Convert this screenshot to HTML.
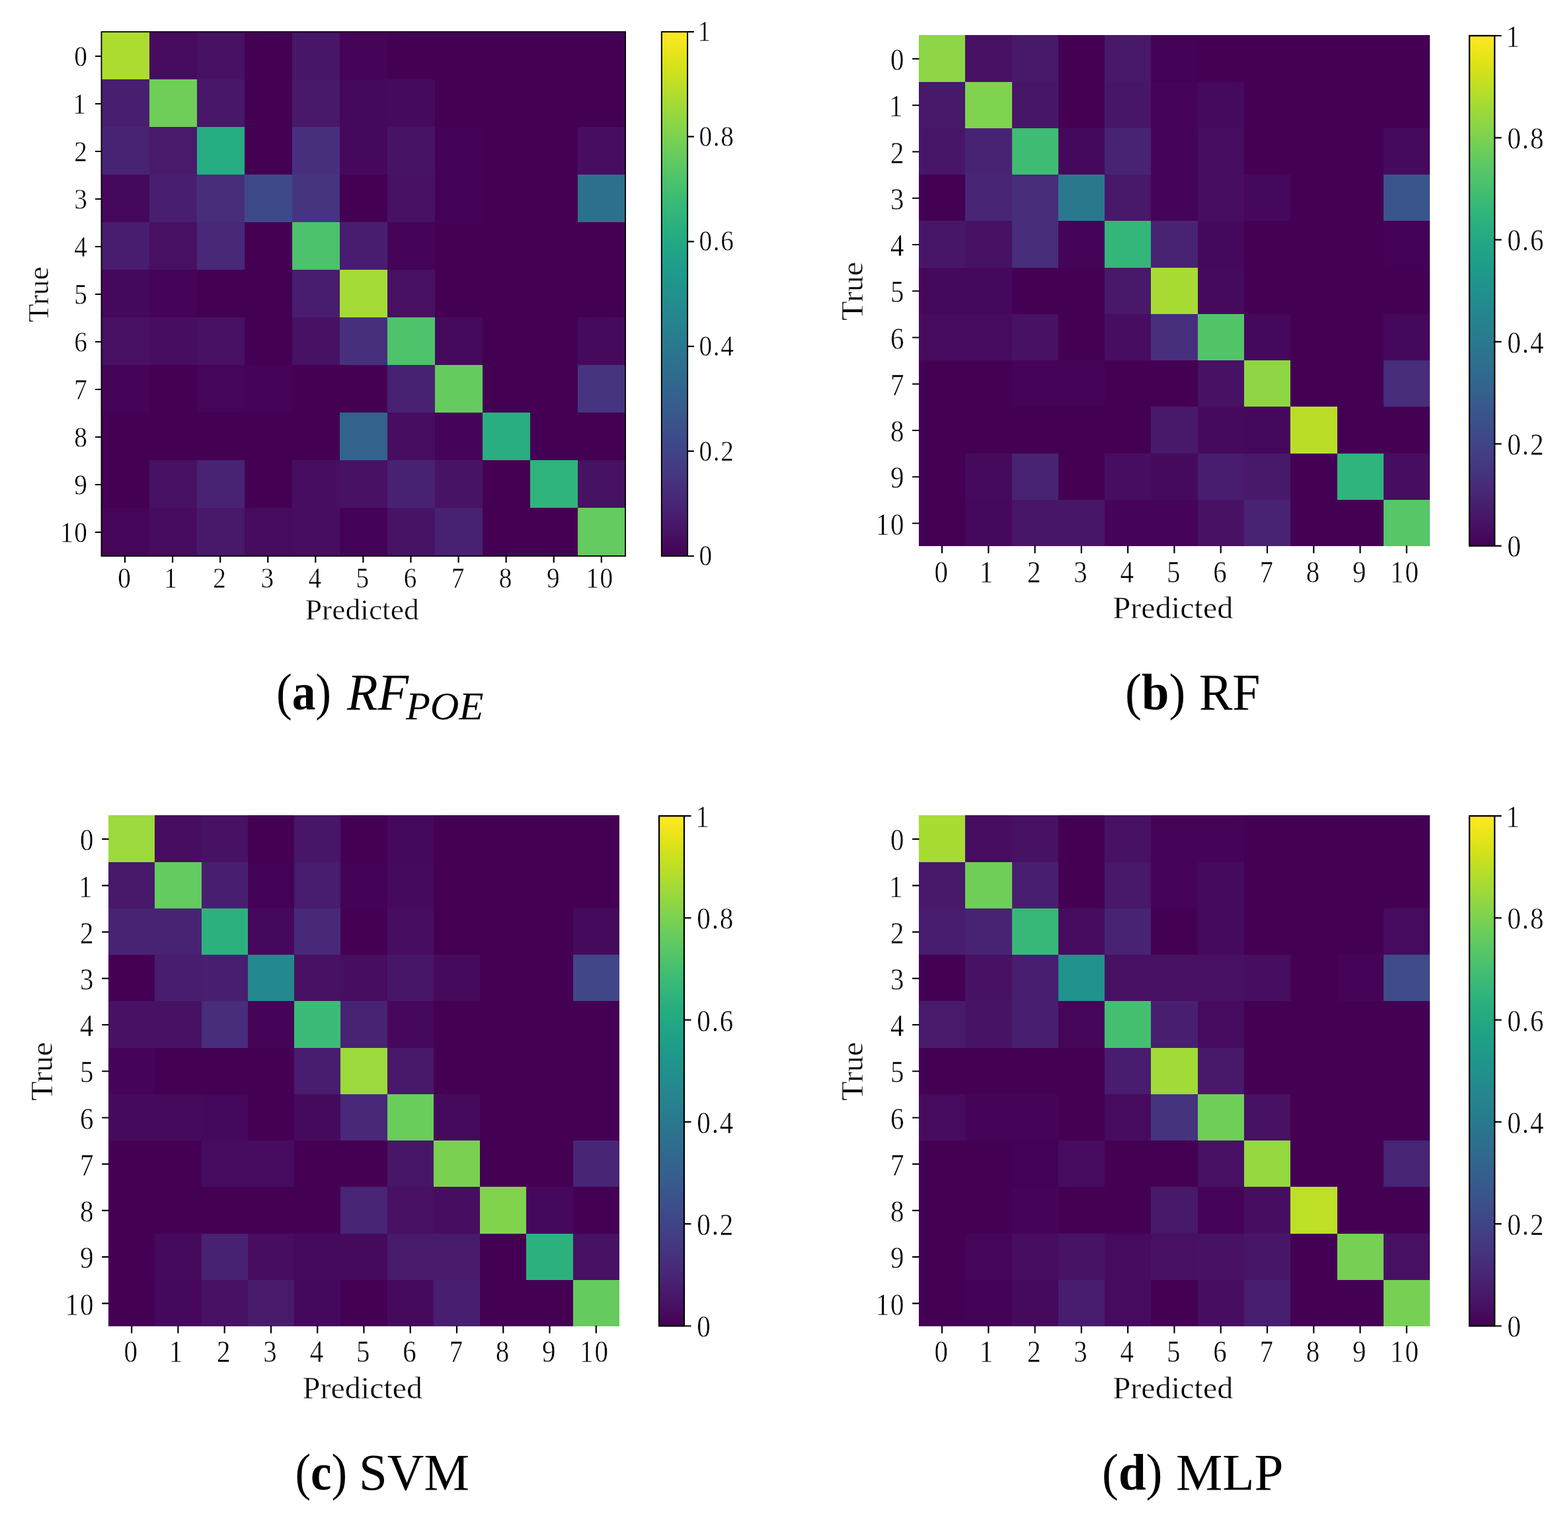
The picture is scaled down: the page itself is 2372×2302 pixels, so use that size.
<!DOCTYPE html>
<html lang="en"><head><meta charset="utf-8"><title>Confusion matrices</title>
<style>
html,body{margin:0;padding:0;background:#fff;}
body{width:2372px;height:2302px;overflow:hidden;}
svg{display:block;}
text{font-family:"Liberation Serif", "DejaVu Serif", serif;fill:#000;}
.t{stroke:#fff;stroke-width:0.5px;stroke-linejoin:round;}
.cap{font-family:"Liberation Serif", "DejaVu Serif", serif;}
</style></head><body>
<svg width="2372" height="2302" viewBox="0 0 2372 2302">
<defs><linearGradient id="vir" x1="0" y1="1" x2="0" y2="0">
<stop offset="0.0000" stop-color="#440154"/>
<stop offset="0.0156" stop-color="#46075a"/>
<stop offset="0.0312" stop-color="#470d60"/>
<stop offset="0.0469" stop-color="#471365"/>
<stop offset="0.0625" stop-color="#48186a"/>
<stop offset="0.0781" stop-color="#481d6f"/>
<stop offset="0.0938" stop-color="#482374"/>
<stop offset="0.1094" stop-color="#482878"/>
<stop offset="0.1250" stop-color="#472d7b"/>
<stop offset="0.1406" stop-color="#46327e"/>
<stop offset="0.1562" stop-color="#453781"/>
<stop offset="0.1719" stop-color="#443b84"/>
<stop offset="0.1875" stop-color="#424086"/>
<stop offset="0.2031" stop-color="#404588"/>
<stop offset="0.2188" stop-color="#3e4989"/>
<stop offset="0.2344" stop-color="#3d4e8a"/>
<stop offset="0.2500" stop-color="#3b528b"/>
<stop offset="0.2656" stop-color="#39568c"/>
<stop offset="0.2812" stop-color="#375b8d"/>
<stop offset="0.2969" stop-color="#355f8d"/>
<stop offset="0.3125" stop-color="#33638d"/>
<stop offset="0.3281" stop-color="#31678e"/>
<stop offset="0.3438" stop-color="#2f6b8e"/>
<stop offset="0.3594" stop-color="#2e6f8e"/>
<stop offset="0.3750" stop-color="#2c728e"/>
<stop offset="0.3906" stop-color="#2a768e"/>
<stop offset="0.4062" stop-color="#297a8e"/>
<stop offset="0.4219" stop-color="#277e8e"/>
<stop offset="0.4375" stop-color="#26828e"/>
<stop offset="0.4531" stop-color="#25858e"/>
<stop offset="0.4688" stop-color="#23898e"/>
<stop offset="0.4844" stop-color="#228d8d"/>
<stop offset="0.5000" stop-color="#21918c"/>
<stop offset="0.5156" stop-color="#1f948c"/>
<stop offset="0.5312" stop-color="#1f988b"/>
<stop offset="0.5469" stop-color="#1e9c89"/>
<stop offset="0.5625" stop-color="#1fa088"/>
<stop offset="0.5781" stop-color="#20a386"/>
<stop offset="0.5938" stop-color="#22a785"/>
<stop offset="0.6094" stop-color="#25ab82"/>
<stop offset="0.6250" stop-color="#28ae80"/>
<stop offset="0.6406" stop-color="#2db27d"/>
<stop offset="0.6562" stop-color="#32b67a"/>
<stop offset="0.6719" stop-color="#38b977"/>
<stop offset="0.6875" stop-color="#3fbc73"/>
<stop offset="0.7031" stop-color="#46c06f"/>
<stop offset="0.7188" stop-color="#4ec36b"/>
<stop offset="0.7344" stop-color="#56c667"/>
<stop offset="0.7500" stop-color="#5ec962"/>
<stop offset="0.7656" stop-color="#67cc5c"/>
<stop offset="0.7812" stop-color="#70cf57"/>
<stop offset="0.7969" stop-color="#7ad151"/>
<stop offset="0.8125" stop-color="#84d44b"/>
<stop offset="0.8281" stop-color="#8ed645"/>
<stop offset="0.8438" stop-color="#98d83e"/>
<stop offset="0.8594" stop-color="#a2da37"/>
<stop offset="0.8750" stop-color="#addc30"/>
<stop offset="0.8906" stop-color="#b8de29"/>
<stop offset="0.9062" stop-color="#c2df23"/>
<stop offset="0.9219" stop-color="#cde11d"/>
<stop offset="0.9375" stop-color="#d8e219"/>
<stop offset="0.9531" stop-color="#e2e418"/>
<stop offset="0.9688" stop-color="#ece51b"/>
<stop offset="0.9844" stop-color="#f6e620"/>
<stop offset="1.0000" stop-color="#fde725"/>
</linearGradient></defs>
<rect x="0" y="0" width="2372" height="2302" fill="#ffffff"/>
<g id="panel-a">
<g shape-rendering="crispEdges">
<rect x="153.45" y="48.15" width="792.6" height="792.85" fill="#440154"/>
<rect x="153.45" y="48.15" width="72.55" height="71.85" fill="#addc30"/>
<rect x="226" y="48.15" width="72" height="71.85" fill="#460b5e"/>
<rect x="298" y="48.15" width="72" height="71.85" fill="#471164"/>
<rect x="442" y="48.15" width="72" height="71.85" fill="#481668"/>
<rect x="514" y="48.15" width="72" height="71.85" fill="#450457"/>
<rect x="153.45" y="120" width="72.55" height="72" fill="#481f70"/>
<rect x="226" y="120" width="72" height="72" fill="#6ece58"/>
<rect x="298" y="120" width="72" height="72" fill="#481769"/>
<rect x="442" y="120" width="72" height="72" fill="#48186a"/>
<rect x="514" y="120" width="72" height="72" fill="#46085c"/>
<rect x="586" y="120" width="72" height="72" fill="#460a5d"/>
<rect x="153.45" y="192" width="72.55" height="72" fill="#482374"/>
<rect x="226" y="192" width="72" height="72" fill="#481a6c"/>
<rect x="298" y="192" width="72" height="72" fill="#26ad81"/>
<rect x="442" y="192" width="72" height="72" fill="#46307e"/>
<rect x="514" y="192" width="72" height="72" fill="#46085c"/>
<rect x="586" y="192" width="72" height="72" fill="#471365"/>
<rect x="658" y="192" width="72" height="72" fill="#440256"/>
<rect x="874" y="192" width="72.05" height="72" fill="#470d60"/>
<rect x="153.45" y="264" width="72.55" height="72" fill="#46085c"/>
<rect x="226" y="264" width="72" height="72" fill="#481f70"/>
<rect x="298" y="264" width="72" height="72" fill="#472d7b"/>
<rect x="370" y="264" width="72" height="72" fill="#3e4989"/>
<rect x="442" y="264" width="72" height="72" fill="#463480"/>
<rect x="586" y="264" width="72" height="72" fill="#471164"/>
<rect x="658" y="264" width="72" height="72" fill="#440256"/>
<rect x="874" y="264" width="72.05" height="72" fill="#2d708e"/>
<rect x="153.45" y="336" width="72.55" height="72" fill="#481c6e"/>
<rect x="226" y="336" width="72" height="72" fill="#471063"/>
<rect x="298" y="336" width="72" height="72" fill="#482878"/>
<rect x="442" y="336" width="72" height="72" fill="#4cc26c"/>
<rect x="514" y="336" width="72" height="72" fill="#481d6f"/>
<rect x="586" y="336" width="72" height="72" fill="#450457"/>
<rect x="153.45" y="408" width="72.55" height="72" fill="#46085c"/>
<rect x="226" y="408" width="72" height="72" fill="#450457"/>
<rect x="442" y="408" width="72" height="72" fill="#481d6f"/>
<rect x="514" y="408" width="72" height="72" fill="#a5db36"/>
<rect x="586" y="408" width="72" height="72" fill="#471063"/>
<rect x="153.45" y="480" width="72.55" height="72" fill="#471063"/>
<rect x="226" y="480" width="72" height="72" fill="#470d60"/>
<rect x="298" y="480" width="72" height="72" fill="#471063"/>
<rect x="442" y="480" width="72" height="72" fill="#471164"/>
<rect x="514" y="480" width="72" height="72" fill="#46307e"/>
<rect x="586" y="480" width="72" height="72" fill="#4ec36b"/>
<rect x="658" y="480" width="72" height="72" fill="#460a5d"/>
<rect x="874" y="480" width="72.05" height="72" fill="#460a5d"/>
<rect x="153.45" y="552" width="72.55" height="72" fill="#450457"/>
<rect x="298" y="552" width="72" height="72" fill="#450559"/>
<rect x="370" y="552" width="72" height="72" fill="#450457"/>
<rect x="586" y="552" width="72" height="72" fill="#482173"/>
<rect x="658" y="552" width="72" height="72" fill="#65cb5e"/>
<rect x="874" y="552" width="72.05" height="72" fill="#463480"/>
<rect x="514" y="624" width="72" height="72" fill="#33638d"/>
<rect x="586" y="624" width="72" height="72" fill="#470d60"/>
<rect x="658" y="624" width="72" height="72" fill="#450457"/>
<rect x="730" y="624" width="72" height="72" fill="#28ae80"/>
<rect x="226" y="696" width="72" height="72" fill="#471164"/>
<rect x="298" y="696" width="72" height="72" fill="#482374"/>
<rect x="442" y="696" width="72" height="72" fill="#470d60"/>
<rect x="514" y="696" width="72" height="72" fill="#471164"/>
<rect x="586" y="696" width="72" height="72" fill="#482173"/>
<rect x="658" y="696" width="72" height="72" fill="#471365"/>
<rect x="802" y="696" width="72" height="72" fill="#2fb47c"/>
<rect x="874" y="696" width="72.05" height="72" fill="#471164"/>
<rect x="153.45" y="768" width="72.55" height="73" fill="#450559"/>
<rect x="226" y="768" width="72" height="73" fill="#460b5e"/>
<rect x="298" y="768" width="72" height="73" fill="#48186a"/>
<rect x="370" y="768" width="72" height="73" fill="#460b5e"/>
<rect x="442" y="768" width="72" height="73" fill="#470d60"/>
<rect x="514" y="768" width="72" height="73" fill="#440256"/>
<rect x="586" y="768" width="72" height="73" fill="#471365"/>
<rect x="658" y="768" width="72" height="73" fill="#482173"/>
<rect x="874" y="768" width="72.05" height="73" fill="#63cb5f"/>
</g>
<path d="M144.05 85H153.45M189 841V850.9M144.05 157H153.45M261.08 841V850.9M144.05 229H153.45M333.16 841V850.9M144.05 301H153.45M405.24 841V850.9M144.05 373H153.45M477.32 841V850.9M144.05 445H153.45M549.4 841V850.9M144.05 517H153.45M621.48 841V850.9M144.05 589H153.45M693.56 841V850.9M144.05 661H153.45M765.64 841V850.9M144.05 733H153.45M837.72 841V850.9M144.05 805H153.45M909.8 841V850.9" stroke="#000" stroke-width="2.2" fill="none"/>
<rect x="153.45" y="48.15" width="792.6" height="792.85" fill="none" stroke="#000" stroke-width="1.8"/>
<text class="t" transform="translate(131.95 100.1) scale(0.880 1)" font-size="44.6" text-anchor="end">0</text>
<text class="t" transform="translate(129.95 172.1) scale(0.880 1)" font-size="44.6" text-anchor="end">1</text>
<text class="t" transform="translate(131.95 244.1) scale(0.880 1)" font-size="44.6" text-anchor="end">2</text>
<text class="t" transform="translate(131.95 316.1) scale(0.880 1)" font-size="44.6" text-anchor="end">3</text>
<text class="t" transform="translate(131.95 388.1) scale(0.880 1)" font-size="44.6" text-anchor="end">4</text>
<text class="t" transform="translate(131.95 460.1) scale(0.880 1)" font-size="44.6" text-anchor="end">5</text>
<text class="t" transform="translate(131.95 532.1) scale(0.880 1)" font-size="44.6" text-anchor="end">6</text>
<text class="t" transform="translate(131.95 604.1) scale(0.880 1)" font-size="44.6" text-anchor="end">7</text>
<text class="t" transform="translate(131.95 676.1) scale(0.880 1)" font-size="44.6" text-anchor="end">8</text>
<text class="t" transform="translate(131.95 748.1) scale(0.880 1)" font-size="44.6" text-anchor="end">9</text>
<text class="t" transform="translate(133.6 820.1) scale(0.880 1)" font-size="44.6" text-anchor="end" style="letter-spacing:1.88px">10</text>
<text class="t" transform="translate(188 889) scale(0.880 1)" font-size="44.6" text-anchor="middle">0</text>
<text class="t" transform="translate(258.08 889) scale(0.880 1)" font-size="44.6" text-anchor="middle">1</text>
<text class="t" transform="translate(332.16 889) scale(0.880 1)" font-size="44.6" text-anchor="middle">2</text>
<text class="t" transform="translate(404.24 889) scale(0.880 1)" font-size="44.6" text-anchor="middle">3</text>
<text class="t" transform="translate(476.32 889) scale(0.880 1)" font-size="44.6" text-anchor="middle">4</text>
<text class="t" transform="translate(548.4 889) scale(0.880 1)" font-size="44.6" text-anchor="middle">5</text>
<text class="t" transform="translate(620.48 889) scale(0.880 1)" font-size="44.6" text-anchor="middle">6</text>
<text class="t" transform="translate(692.56 889) scale(0.880 1)" font-size="44.6" text-anchor="middle">7</text>
<text class="t" transform="translate(764.64 889) scale(0.880 1)" font-size="44.6" text-anchor="middle">8</text>
<text class="t" transform="translate(836.72 889) scale(0.880 1)" font-size="44.6" text-anchor="middle">9</text>
<text class="t" transform="translate(907.62 889) scale(0.880 1)" font-size="44.6" text-anchor="middle" style="letter-spacing:1.88px">10</text>
<text class="t" x="547.75" y="937" font-size="44.6" text-anchor="middle" textLength="172.1" lengthAdjust="spacingAndGlyphs">Predicted</text>
<text class="t" transform="translate(73.2 445.38) rotate(-90)" font-size="44.6" text-anchor="middle" textLength="84.4" lengthAdjust="spacingAndGlyphs">True</text>
<rect x="1000.85" y="48.15" width="39.2" height="792.85" fill="url(#vir)" stroke="#000" stroke-width="2"/>
<path d="M1040.05 841H1049.85M1040.05 682.43H1049.85M1040.05 523.86H1049.85M1040.05 365.29H1049.85M1040.05 206.72H1049.85M1040.05 48.15H1049.85" stroke="#000" stroke-width="2.2" fill="none"/>
<text class="t" transform="translate(1057.5 855.2) scale(0.880 1)" font-size="44.6" text-anchor="start">0</text>
<text class="t" transform="translate(1057.5 696.63) scale(0.880 1)" font-size="44.6" text-anchor="start" style="letter-spacing:1.88px">0.2</text>
<text class="t" transform="translate(1057.5 538.06) scale(0.880 1)" font-size="44.6" text-anchor="start" style="letter-spacing:1.88px">0.4</text>
<text class="t" transform="translate(1057.5 379.49) scale(0.880 1)" font-size="44.6" text-anchor="start" style="letter-spacing:1.88px">0.6</text>
<text class="t" transform="translate(1057.5 220.92) scale(0.880 1)" font-size="44.6" text-anchor="start" style="letter-spacing:1.88px">0.8</text>
<text class="t" transform="translate(1055.5 62.35) scale(0.880 1)" font-size="44.6" text-anchor="start">1</text>
</g>
<g id="panel-b">
<g shape-rendering="crispEdges">
<rect x="1389.9" y="53" width="773.1" height="772.8" fill="#440154"/>
<rect x="1389.9" y="53" width="70.1" height="71" fill="#8ed645"/>
<rect x="1460" y="53" width="71" height="71" fill="#471164"/>
<rect x="1531" y="53" width="70" height="71" fill="#48186a"/>
<rect x="1671" y="53" width="70" height="71" fill="#48186a"/>
<rect x="1741" y="53" width="71" height="71" fill="#440256"/>
<rect x="1389.9" y="124" width="70.1" height="70" fill="#48186a"/>
<rect x="1460" y="124" width="71" height="70" fill="#7fd34e"/>
<rect x="1531" y="124" width="70" height="70" fill="#481668"/>
<rect x="1671" y="124" width="70" height="70" fill="#481668"/>
<rect x="1741" y="124" width="71" height="70" fill="#450457"/>
<rect x="1812" y="124" width="70" height="70" fill="#460a5d"/>
<rect x="1389.9" y="194" width="70.1" height="70" fill="#481668"/>
<rect x="1460" y="194" width="71" height="70" fill="#482374"/>
<rect x="1531" y="194" width="70" height="70" fill="#3fbc73"/>
<rect x="1601" y="194" width="70" height="70" fill="#46085c"/>
<rect x="1671" y="194" width="70" height="70" fill="#482374"/>
<rect x="1741" y="194" width="71" height="70" fill="#450457"/>
<rect x="1812" y="194" width="70" height="70" fill="#470d60"/>
<rect x="2093" y="194" width="70" height="70" fill="#460a5d"/>
<rect x="1460" y="264" width="71" height="70" fill="#482576"/>
<rect x="1531" y="264" width="70" height="70" fill="#472d7b"/>
<rect x="1601" y="264" width="70" height="70" fill="#2a788e"/>
<rect x="1671" y="264" width="70" height="70" fill="#48186a"/>
<rect x="1741" y="264" width="71" height="70" fill="#450457"/>
<rect x="1812" y="264" width="70" height="70" fill="#470d60"/>
<rect x="1882" y="264" width="70" height="70" fill="#46085c"/>
<rect x="2093" y="264" width="70" height="70" fill="#3a548c"/>
<rect x="1389.9" y="334" width="70.1" height="71" fill="#481668"/>
<rect x="1460" y="334" width="71" height="71" fill="#471164"/>
<rect x="1531" y="334" width="70" height="71" fill="#472d7b"/>
<rect x="1601" y="334" width="70" height="71" fill="#450457"/>
<rect x="1671" y="334" width="70" height="71" fill="#32b67a"/>
<rect x="1741" y="334" width="71" height="71" fill="#482374"/>
<rect x="1812" y="334" width="70" height="71" fill="#46085c"/>
<rect x="2093" y="334" width="70" height="71" fill="#440256"/>
<rect x="1389.9" y="405" width="70.1" height="70" fill="#46085c"/>
<rect x="1460" y="405" width="71" height="70" fill="#46085c"/>
<rect x="1671" y="405" width="70" height="70" fill="#48186a"/>
<rect x="1741" y="405" width="71" height="70" fill="#a8db34"/>
<rect x="1812" y="405" width="70" height="70" fill="#460a5d"/>
<rect x="1389.9" y="475" width="70.1" height="70" fill="#460b5e"/>
<rect x="1460" y="475" width="71" height="70" fill="#460b5e"/>
<rect x="1531" y="475" width="70" height="70" fill="#471164"/>
<rect x="1671" y="475" width="70" height="70" fill="#470d60"/>
<rect x="1741" y="475" width="71" height="70" fill="#472f7d"/>
<rect x="1812" y="475" width="70" height="70" fill="#52c569"/>
<rect x="1882" y="475" width="70" height="70" fill="#46085c"/>
<rect x="2093" y="475" width="70" height="70" fill="#46085c"/>
<rect x="1531" y="545" width="70" height="70" fill="#450457"/>
<rect x="1601" y="545" width="70" height="70" fill="#450457"/>
<rect x="1812" y="545" width="70" height="70" fill="#471164"/>
<rect x="1882" y="545" width="70" height="70" fill="#8ed645"/>
<rect x="2093" y="545" width="70" height="70" fill="#472d7b"/>
<rect x="1741" y="615" width="71" height="71" fill="#48186a"/>
<rect x="1812" y="615" width="70" height="71" fill="#460a5d"/>
<rect x="1882" y="615" width="70" height="71" fill="#46085c"/>
<rect x="1952" y="615" width="71" height="71" fill="#bade28"/>
<rect x="1460" y="686" width="71" height="70" fill="#460a5d"/>
<rect x="1531" y="686" width="70" height="70" fill="#482374"/>
<rect x="1671" y="686" width="70" height="70" fill="#470d60"/>
<rect x="1741" y="686" width="71" height="70" fill="#460a5d"/>
<rect x="1812" y="686" width="70" height="70" fill="#481c6e"/>
<rect x="1882" y="686" width="70" height="70" fill="#48186a"/>
<rect x="2023" y="686" width="70" height="70" fill="#2fb47c"/>
<rect x="2093" y="686" width="70" height="70" fill="#470d60"/>
<rect x="1460" y="756" width="71" height="69.8" fill="#46085c"/>
<rect x="1531" y="756" width="70" height="69.8" fill="#481668"/>
<rect x="1601" y="756" width="70" height="69.8" fill="#481668"/>
<rect x="1671" y="756" width="70" height="69.8" fill="#450457"/>
<rect x="1741" y="756" width="71" height="69.8" fill="#450457"/>
<rect x="1812" y="756" width="70" height="69.8" fill="#471164"/>
<rect x="1882" y="756" width="70" height="69.8" fill="#482374"/>
<rect x="2093" y="756" width="70" height="69.8" fill="#56c667"/>
</g>
<path d="M1380.1 88.98H1390.5M1425.04 825.2V836.7M1380.1 159.23H1390.5M1495.32 825.2V836.7M1380.1 229.49H1390.5M1565.6 825.2V836.7M1380.1 299.74H1390.5M1635.89 825.2V836.7M1380.1 370H1390.5M1706.17 825.2V836.7M1380.1 440.25H1390.5M1776.45 825.2V836.7M1380.1 510.5H1390.5M1846.73 825.2V836.7M1380.1 580.76H1390.5M1917.01 825.2V836.7M1380.1 651.01H1390.5M1987.3 825.2V836.7M1380.1 721.27H1390.5M2057.58 825.2V836.7M1380.1 791.52H1390.5M2127.86 825.2V836.7" stroke="#000" stroke-width="2.2" fill="none"/>
<text class="t" transform="translate(1367.6 106.18) scale(0.880 1)" font-size="46.6" text-anchor="end">0</text>
<text class="t" transform="translate(1365.6 176.43) scale(0.880 1)" font-size="46.6" text-anchor="end">1</text>
<text class="t" transform="translate(1367.6 246.69) scale(0.880 1)" font-size="46.6" text-anchor="end">2</text>
<text class="t" transform="translate(1367.6 316.94) scale(0.880 1)" font-size="46.6" text-anchor="end">3</text>
<text class="t" transform="translate(1367.6 387.2) scale(0.880 1)" font-size="46.6" text-anchor="end">4</text>
<text class="t" transform="translate(1367.6 457.45) scale(0.880 1)" font-size="46.6" text-anchor="end">5</text>
<text class="t" transform="translate(1367.6 527.7) scale(0.880 1)" font-size="46.6" text-anchor="end">6</text>
<text class="t" transform="translate(1367.6 597.96) scale(0.880 1)" font-size="46.6" text-anchor="end">7</text>
<text class="t" transform="translate(1367.6 668.21) scale(0.880 1)" font-size="46.6" text-anchor="end">8</text>
<text class="t" transform="translate(1367.6 738.47) scale(0.880 1)" font-size="46.6" text-anchor="end">9</text>
<text class="t" transform="translate(1369.5 808.72) scale(0.880 1)" font-size="46.6" text-anchor="end" style="letter-spacing:2.16px">10</text>
<text class="t" transform="translate(1423.74 880.6) scale(0.880 1)" font-size="46.6" text-anchor="middle">0</text>
<text class="t" transform="translate(1492.02 880.6) scale(0.880 1)" font-size="46.6" text-anchor="middle">1</text>
<text class="t" transform="translate(1564.3 880.6) scale(0.880 1)" font-size="46.6" text-anchor="middle">2</text>
<text class="t" transform="translate(1634.59 880.6) scale(0.880 1)" font-size="46.6" text-anchor="middle">3</text>
<text class="t" transform="translate(1704.87 880.6) scale(0.880 1)" font-size="46.6" text-anchor="middle">4</text>
<text class="t" transform="translate(1775.15 880.6) scale(0.880 1)" font-size="46.6" text-anchor="middle">5</text>
<text class="t" transform="translate(1845.43 880.6) scale(0.880 1)" font-size="46.6" text-anchor="middle">6</text>
<text class="t" transform="translate(1915.71 880.6) scale(0.880 1)" font-size="46.6" text-anchor="middle">7</text>
<text class="t" transform="translate(1986 880.6) scale(0.880 1)" font-size="46.6" text-anchor="middle">8</text>
<text class="t" transform="translate(2056.28 880.6) scale(0.880 1)" font-size="46.6" text-anchor="middle">9</text>
<text class="t" transform="translate(2125.51 880.6) scale(0.880 1)" font-size="46.6" text-anchor="middle" style="letter-spacing:2.16px">10</text>
<text class="t" x="1774.45" y="934.9" font-size="47" text-anchor="middle" textLength="181.8" lengthAdjust="spacingAndGlyphs">Predicted</text>
<text class="t" transform="translate(1304.8 440.3) rotate(-90)" font-size="47" text-anchor="middle" textLength="88.9" lengthAdjust="spacingAndGlyphs">True</text>
<rect x="2222.9" y="54" width="38.1" height="771.6" fill="url(#vir)" stroke="#000" stroke-width="2.3"/>
<path d="M2261 825.6H2271.5M2261 671.28H2271.5M2261 516.96H2271.5M2261 362.64H2271.5M2261 208.32H2271.5M2261 54H2271.5" stroke="#000" stroke-width="2.2" fill="none"/>
<text class="t" transform="translate(2280.15 842.45) scale(0.880 1)" font-size="46.6" text-anchor="start">0</text>
<text class="t" transform="translate(2280.15 688.13) scale(0.880 1)" font-size="46.6" text-anchor="start" style="letter-spacing:2.16px">0.2</text>
<text class="t" transform="translate(2280.15 533.81) scale(0.880 1)" font-size="46.6" text-anchor="start" style="letter-spacing:2.16px">0.4</text>
<text class="t" transform="translate(2280.15 379.49) scale(0.880 1)" font-size="46.6" text-anchor="start" style="letter-spacing:2.16px">0.6</text>
<text class="t" transform="translate(2280.15 225.17) scale(0.880 1)" font-size="46.6" text-anchor="start" style="letter-spacing:2.16px">0.8</text>
<text class="t" transform="translate(2278.15 70.85) scale(0.880 1)" font-size="46.6" text-anchor="start">1</text>
</g>
<g id="panel-c">
<g shape-rendering="crispEdges">
<rect x="164" y="1233.1" width="772.9" height="772.6" fill="#440154"/>
<rect x="164" y="1233.1" width="70" height="70.9" fill="#9bd93c"/>
<rect x="234" y="1233.1" width="71" height="70.9" fill="#470d60"/>
<rect x="305" y="1233.1" width="70" height="70.9" fill="#471164"/>
<rect x="445" y="1233.1" width="70" height="70.9" fill="#481668"/>
<rect x="586" y="1233.1" width="70" height="70.9" fill="#46085c"/>
<rect x="164" y="1304" width="70" height="70" fill="#48186a"/>
<rect x="234" y="1304" width="71" height="70" fill="#63cb5f"/>
<rect x="305" y="1304" width="70" height="70" fill="#481f70"/>
<rect x="375" y="1304" width="70" height="70" fill="#440256"/>
<rect x="445" y="1304" width="70" height="70" fill="#481c6e"/>
<rect x="515" y="1304" width="71" height="70" fill="#440256"/>
<rect x="586" y="1304" width="70" height="70" fill="#460a5d"/>
<rect x="164" y="1374" width="70" height="70" fill="#482374"/>
<rect x="234" y="1374" width="71" height="70" fill="#482374"/>
<rect x="305" y="1374" width="70" height="70" fill="#2cb17e"/>
<rect x="375" y="1374" width="70" height="70" fill="#46085c"/>
<rect x="445" y="1374" width="70" height="70" fill="#482979"/>
<rect x="586" y="1374" width="70" height="70" fill="#470d60"/>
<rect x="867" y="1374" width="69.9" height="70" fill="#460a5d"/>
<rect x="234" y="1444" width="71" height="70" fill="#481c6e"/>
<rect x="305" y="1444" width="70" height="70" fill="#481f70"/>
<rect x="375" y="1444" width="70" height="70" fill="#23898e"/>
<rect x="445" y="1444" width="70" height="70" fill="#471164"/>
<rect x="515" y="1444" width="71" height="70" fill="#470d60"/>
<rect x="586" y="1444" width="70" height="70" fill="#481668"/>
<rect x="656" y="1444" width="70" height="70" fill="#460a5d"/>
<rect x="867" y="1444" width="69.9" height="70" fill="#404688"/>
<rect x="164" y="1514" width="70" height="71" fill="#471164"/>
<rect x="234" y="1514" width="71" height="71" fill="#471164"/>
<rect x="305" y="1514" width="70" height="71" fill="#472d7b"/>
<rect x="375" y="1514" width="70" height="71" fill="#450457"/>
<rect x="445" y="1514" width="70" height="71" fill="#3bbb75"/>
<rect x="515" y="1514" width="71" height="71" fill="#482374"/>
<rect x="586" y="1514" width="70" height="71" fill="#46085c"/>
<rect x="164" y="1585" width="70" height="70" fill="#450457"/>
<rect x="445" y="1585" width="70" height="70" fill="#481c6e"/>
<rect x="515" y="1585" width="71" height="70" fill="#9bd93c"/>
<rect x="586" y="1585" width="70" height="70" fill="#48186a"/>
<rect x="164" y="1655" width="70" height="70" fill="#460a5d"/>
<rect x="234" y="1655" width="71" height="70" fill="#460a5d"/>
<rect x="305" y="1655" width="70" height="70" fill="#46085c"/>
<rect x="445" y="1655" width="70" height="70" fill="#460a5d"/>
<rect x="515" y="1655" width="71" height="70" fill="#482979"/>
<rect x="586" y="1655" width="70" height="70" fill="#69cd5b"/>
<rect x="656" y="1655" width="70" height="70" fill="#460a5d"/>
<rect x="305" y="1725" width="70" height="70" fill="#460b5e"/>
<rect x="375" y="1725" width="70" height="70" fill="#460b5e"/>
<rect x="586" y="1725" width="70" height="70" fill="#481668"/>
<rect x="656" y="1725" width="70" height="70" fill="#7ad151"/>
<rect x="867" y="1725" width="69.9" height="70" fill="#482576"/>
<rect x="515" y="1795" width="71" height="71" fill="#482475"/>
<rect x="586" y="1795" width="70" height="71" fill="#471063"/>
<rect x="656" y="1795" width="70" height="71" fill="#470d60"/>
<rect x="726" y="1795" width="70" height="71" fill="#81d34d"/>
<rect x="796" y="1795" width="71" height="71" fill="#46085c"/>
<rect x="234" y="1866" width="71" height="70" fill="#460a5d"/>
<rect x="305" y="1866" width="70" height="70" fill="#482173"/>
<rect x="375" y="1866" width="70" height="70" fill="#470d60"/>
<rect x="445" y="1866" width="70" height="70" fill="#460a5d"/>
<rect x="515" y="1866" width="71" height="70" fill="#460a5d"/>
<rect x="586" y="1866" width="70" height="70" fill="#481a6c"/>
<rect x="656" y="1866" width="70" height="70" fill="#481a6c"/>
<rect x="796" y="1866" width="71" height="70" fill="#2cb17e"/>
<rect x="867" y="1866" width="69.9" height="70" fill="#471164"/>
<rect x="234" y="1936" width="71" height="69.7" fill="#46085c"/>
<rect x="305" y="1936" width="70" height="69.7" fill="#471164"/>
<rect x="375" y="1936" width="70" height="69.7" fill="#481a6c"/>
<rect x="445" y="1936" width="70" height="69.7" fill="#46085c"/>
<rect x="586" y="1936" width="70" height="69.7" fill="#460a5d"/>
<rect x="656" y="1936" width="70" height="69.7" fill="#481f70"/>
<rect x="867" y="1936" width="69.9" height="69.7" fill="#65cb5e"/>
</g>
<path d="M154.2 1269.07H164.6M199.13 2005.1V2016.6M154.2 1339.3H164.6M269.4 2005.1V2016.6M154.2 1409.54H164.6M339.66 2005.1V2016.6M154.2 1479.78H164.6M409.92 2005.1V2016.6M154.2 1550.01H164.6M480.19 2005.1V2016.6M154.2 1620.25H164.6M550.45 2005.1V2016.6M154.2 1690.49H164.6M620.71 2005.1V2016.6M154.2 1760.72H164.6M690.98 2005.1V2016.6M154.2 1830.96H164.6M761.24 2005.1V2016.6M154.2 1901.2H164.6M831.5 2005.1V2016.6M154.2 1971.43H164.6M901.77 2005.1V2016.6" stroke="#000" stroke-width="2.2" fill="none"/>
<text class="t" transform="translate(141.5 1286.27) scale(0.880 1)" font-size="46.6" text-anchor="end">0</text>
<text class="t" transform="translate(139.5 1356.5) scale(0.880 1)" font-size="46.6" text-anchor="end">1</text>
<text class="t" transform="translate(141.5 1426.74) scale(0.880 1)" font-size="46.6" text-anchor="end">2</text>
<text class="t" transform="translate(141.5 1496.98) scale(0.880 1)" font-size="46.6" text-anchor="end">3</text>
<text class="t" transform="translate(141.5 1567.21) scale(0.880 1)" font-size="46.6" text-anchor="end">4</text>
<text class="t" transform="translate(141.5 1637.45) scale(0.880 1)" font-size="46.6" text-anchor="end">5</text>
<text class="t" transform="translate(141.5 1707.69) scale(0.880 1)" font-size="46.6" text-anchor="end">6</text>
<text class="t" transform="translate(141.5 1777.92) scale(0.880 1)" font-size="46.6" text-anchor="end">7</text>
<text class="t" transform="translate(141.5 1848.16) scale(0.880 1)" font-size="46.6" text-anchor="end">8</text>
<text class="t" transform="translate(141.5 1918.4) scale(0.880 1)" font-size="46.6" text-anchor="end">9</text>
<text class="t" transform="translate(143.4 1988.63) scale(0.880 1)" font-size="46.6" text-anchor="end" style="letter-spacing:2.16px">10</text>
<text class="t" transform="translate(197.83 2060.3) scale(0.880 1)" font-size="46.6" text-anchor="middle">0</text>
<text class="t" transform="translate(266.1 2060.3) scale(0.880 1)" font-size="46.6" text-anchor="middle">1</text>
<text class="t" transform="translate(338.36 2060.3) scale(0.880 1)" font-size="46.6" text-anchor="middle">2</text>
<text class="t" transform="translate(408.62 2060.3) scale(0.880 1)" font-size="46.6" text-anchor="middle">3</text>
<text class="t" transform="translate(478.89 2060.3) scale(0.880 1)" font-size="46.6" text-anchor="middle">4</text>
<text class="t" transform="translate(549.15 2060.3) scale(0.880 1)" font-size="46.6" text-anchor="middle">5</text>
<text class="t" transform="translate(619.41 2060.3) scale(0.880 1)" font-size="46.6" text-anchor="middle">6</text>
<text class="t" transform="translate(689.68 2060.3) scale(0.880 1)" font-size="46.6" text-anchor="middle">7</text>
<text class="t" transform="translate(759.94 2060.3) scale(0.880 1)" font-size="46.6" text-anchor="middle">8</text>
<text class="t" transform="translate(830.2 2060.3) scale(0.880 1)" font-size="46.6" text-anchor="middle">9</text>
<text class="t" transform="translate(899.42 2060.3) scale(0.880 1)" font-size="46.6" text-anchor="middle" style="letter-spacing:2.16px">10</text>
<text class="t" x="548.45" y="2114.8" font-size="47" text-anchor="middle" textLength="181.4" lengthAdjust="spacingAndGlyphs">Predicted</text>
<text class="t" transform="translate(78.6 1620.3) rotate(-90)" font-size="47" text-anchor="middle" textLength="88.9" lengthAdjust="spacingAndGlyphs">True</text>
<rect x="997.05" y="1234.1" width="37.9" height="771.4" fill="url(#vir)" stroke="#000" stroke-width="2.3"/>
<path d="M1034.95 2005.5H1045.45M1034.95 1851.22H1045.45M1034.95 1696.94H1045.45M1034.95 1542.66H1045.45M1034.95 1388.38H1045.45M1034.95 1234.1H1045.45" stroke="#000" stroke-width="2.2" fill="none"/>
<text class="t" transform="translate(1054.25 2022.35) scale(0.880 1)" font-size="46.6" text-anchor="start">0</text>
<text class="t" transform="translate(1054.25 1868.07) scale(0.880 1)" font-size="46.6" text-anchor="start" style="letter-spacing:2.16px">0.2</text>
<text class="t" transform="translate(1054.25 1713.79) scale(0.880 1)" font-size="46.6" text-anchor="start" style="letter-spacing:2.16px">0.4</text>
<text class="t" transform="translate(1054.25 1559.51) scale(0.880 1)" font-size="46.6" text-anchor="start" style="letter-spacing:2.16px">0.6</text>
<text class="t" transform="translate(1054.25 1405.23) scale(0.880 1)" font-size="46.6" text-anchor="start" style="letter-spacing:2.16px">0.8</text>
<text class="t" transform="translate(1052.25 1250.95) scale(0.880 1)" font-size="46.6" text-anchor="start">1</text>
</g>
<g id="panel-d">
<g shape-rendering="crispEdges">
<rect x="1389.9" y="1233.1" width="773.1" height="772.6" fill="#440154"/>
<rect x="1389.9" y="1233.1" width="70.1" height="70.9" fill="#a8db34"/>
<rect x="1460" y="1233.1" width="71" height="70.9" fill="#470d60"/>
<rect x="1531" y="1233.1" width="70" height="70.9" fill="#471164"/>
<rect x="1671" y="1233.1" width="70" height="70.9" fill="#471164"/>
<rect x="1741" y="1233.1" width="71" height="70.9" fill="#450457"/>
<rect x="1812" y="1233.1" width="70" height="70.9" fill="#450457"/>
<rect x="1389.9" y="1304" width="70.1" height="70" fill="#48186a"/>
<rect x="1460" y="1304" width="71" height="70" fill="#6ece58"/>
<rect x="1531" y="1304" width="70" height="70" fill="#481f70"/>
<rect x="1671" y="1304" width="70" height="70" fill="#48186a"/>
<rect x="1741" y="1304" width="71" height="70" fill="#450457"/>
<rect x="1812" y="1304" width="70" height="70" fill="#460a5d"/>
<rect x="1389.9" y="1374" width="70.1" height="70" fill="#481c6e"/>
<rect x="1460" y="1374" width="71" height="70" fill="#482374"/>
<rect x="1531" y="1374" width="70" height="70" fill="#37b878"/>
<rect x="1601" y="1374" width="70" height="70" fill="#460b5e"/>
<rect x="1671" y="1374" width="70" height="70" fill="#482374"/>
<rect x="1812" y="1374" width="70" height="70" fill="#460a5d"/>
<rect x="2093" y="1374" width="70" height="70" fill="#460b5e"/>
<rect x="1460" y="1444" width="71" height="70" fill="#471164"/>
<rect x="1531" y="1444" width="70" height="70" fill="#481f70"/>
<rect x="1601" y="1444" width="70" height="70" fill="#20938c"/>
<rect x="1671" y="1444" width="70" height="70" fill="#471063"/>
<rect x="1741" y="1444" width="71" height="70" fill="#471063"/>
<rect x="1812" y="1444" width="70" height="70" fill="#471063"/>
<rect x="1882" y="1444" width="70" height="70" fill="#470d60"/>
<rect x="2023" y="1444" width="70" height="70" fill="#450457"/>
<rect x="2093" y="1444" width="70" height="70" fill="#3e4a89"/>
<rect x="1389.9" y="1514" width="70.1" height="71" fill="#481a6c"/>
<rect x="1460" y="1514" width="71" height="71" fill="#471365"/>
<rect x="1531" y="1514" width="70" height="71" fill="#481f70"/>
<rect x="1601" y="1514" width="70" height="71" fill="#450559"/>
<rect x="1671" y="1514" width="70" height="71" fill="#44bf70"/>
<rect x="1741" y="1514" width="71" height="71" fill="#481f70"/>
<rect x="1812" y="1514" width="70" height="71" fill="#460b5e"/>
<rect x="1671" y="1585" width="70" height="70" fill="#481c6e"/>
<rect x="1741" y="1585" width="71" height="70" fill="#a2da37"/>
<rect x="1812" y="1585" width="70" height="70" fill="#48186a"/>
<rect x="1389.9" y="1655" width="70.1" height="70" fill="#460b5e"/>
<rect x="1460" y="1655" width="71" height="70" fill="#450457"/>
<rect x="1531" y="1655" width="70" height="70" fill="#450457"/>
<rect x="1671" y="1655" width="70" height="70" fill="#460b5e"/>
<rect x="1741" y="1655" width="71" height="70" fill="#46337f"/>
<rect x="1812" y="1655" width="70" height="70" fill="#6ece58"/>
<rect x="1882" y="1655" width="70" height="70" fill="#471164"/>
<rect x="1531" y="1725" width="70" height="70" fill="#440256"/>
<rect x="1601" y="1725" width="70" height="70" fill="#460b5e"/>
<rect x="1812" y="1725" width="70" height="70" fill="#471063"/>
<rect x="1882" y="1725" width="70" height="70" fill="#95d840"/>
<rect x="2093" y="1725" width="70" height="70" fill="#482475"/>
<rect x="1531" y="1795" width="70" height="71" fill="#450457"/>
<rect x="1741" y="1795" width="71" height="71" fill="#48186a"/>
<rect x="1812" y="1795" width="70" height="71" fill="#450457"/>
<rect x="1882" y="1795" width="70" height="71" fill="#470d60"/>
<rect x="1952" y="1795" width="71" height="71" fill="#bddf26"/>
<rect x="1460" y="1866" width="71" height="70" fill="#450559"/>
<rect x="1531" y="1866" width="70" height="70" fill="#470d60"/>
<rect x="1601" y="1866" width="70" height="70" fill="#471365"/>
<rect x="1671" y="1866" width="70" height="70" fill="#460b5e"/>
<rect x="1741" y="1866" width="71" height="70" fill="#471063"/>
<rect x="1812" y="1866" width="70" height="70" fill="#471164"/>
<rect x="1882" y="1866" width="70" height="70" fill="#481668"/>
<rect x="2023" y="1866" width="70" height="70" fill="#75d054"/>
<rect x="2093" y="1866" width="70" height="70" fill="#471063"/>
<rect x="1460" y="1936" width="71" height="69.7" fill="#440256"/>
<rect x="1531" y="1936" width="70" height="69.7" fill="#460a5d"/>
<rect x="1601" y="1936" width="70" height="69.7" fill="#481d6f"/>
<rect x="1671" y="1936" width="70" height="69.7" fill="#460b5e"/>
<rect x="1812" y="1936" width="70" height="69.7" fill="#470d60"/>
<rect x="1882" y="1936" width="70" height="69.7" fill="#481f70"/>
<rect x="2093" y="1936" width="70" height="69.7" fill="#75d054"/>
</g>
<path d="M1380.1 1269.07H1390.5M1425.04 2005.1V2016.6M1380.1 1339.3H1390.5M1495.32 2005.1V2016.6M1380.1 1409.54H1390.5M1565.6 2005.1V2016.6M1380.1 1479.78H1390.5M1635.89 2005.1V2016.6M1380.1 1550.01H1390.5M1706.17 2005.1V2016.6M1380.1 1620.25H1390.5M1776.45 2005.1V2016.6M1380.1 1690.49H1390.5M1846.73 2005.1V2016.6M1380.1 1760.72H1390.5M1917.01 2005.1V2016.6M1380.1 1830.96H1390.5M1987.3 2005.1V2016.6M1380.1 1901.2H1390.5M2057.58 2005.1V2016.6M1380.1 1971.43H1390.5M2127.86 2005.1V2016.6" stroke="#000" stroke-width="2.2" fill="none"/>
<text class="t" transform="translate(1367.6 1286.27) scale(0.880 1)" font-size="46.6" text-anchor="end">0</text>
<text class="t" transform="translate(1365.6 1356.5) scale(0.880 1)" font-size="46.6" text-anchor="end">1</text>
<text class="t" transform="translate(1367.6 1426.74) scale(0.880 1)" font-size="46.6" text-anchor="end">2</text>
<text class="t" transform="translate(1367.6 1496.98) scale(0.880 1)" font-size="46.6" text-anchor="end">3</text>
<text class="t" transform="translate(1367.6 1567.21) scale(0.880 1)" font-size="46.6" text-anchor="end">4</text>
<text class="t" transform="translate(1367.6 1637.45) scale(0.880 1)" font-size="46.6" text-anchor="end">5</text>
<text class="t" transform="translate(1367.6 1707.69) scale(0.880 1)" font-size="46.6" text-anchor="end">6</text>
<text class="t" transform="translate(1367.6 1777.92) scale(0.880 1)" font-size="46.6" text-anchor="end">7</text>
<text class="t" transform="translate(1367.6 1848.16) scale(0.880 1)" font-size="46.6" text-anchor="end">8</text>
<text class="t" transform="translate(1367.6 1918.4) scale(0.880 1)" font-size="46.6" text-anchor="end">9</text>
<text class="t" transform="translate(1369.5 1988.63) scale(0.880 1)" font-size="46.6" text-anchor="end" style="letter-spacing:2.16px">10</text>
<text class="t" transform="translate(1423.74 2060.3) scale(0.880 1)" font-size="46.6" text-anchor="middle">0</text>
<text class="t" transform="translate(1492.02 2060.3) scale(0.880 1)" font-size="46.6" text-anchor="middle">1</text>
<text class="t" transform="translate(1564.3 2060.3) scale(0.880 1)" font-size="46.6" text-anchor="middle">2</text>
<text class="t" transform="translate(1634.59 2060.3) scale(0.880 1)" font-size="46.6" text-anchor="middle">3</text>
<text class="t" transform="translate(1704.87 2060.3) scale(0.880 1)" font-size="46.6" text-anchor="middle">4</text>
<text class="t" transform="translate(1775.15 2060.3) scale(0.880 1)" font-size="46.6" text-anchor="middle">5</text>
<text class="t" transform="translate(1845.43 2060.3) scale(0.880 1)" font-size="46.6" text-anchor="middle">6</text>
<text class="t" transform="translate(1915.71 2060.3) scale(0.880 1)" font-size="46.6" text-anchor="middle">7</text>
<text class="t" transform="translate(1986 2060.3) scale(0.880 1)" font-size="46.6" text-anchor="middle">8</text>
<text class="t" transform="translate(2056.28 2060.3) scale(0.880 1)" font-size="46.6" text-anchor="middle">9</text>
<text class="t" transform="translate(2125.51 2060.3) scale(0.880 1)" font-size="46.6" text-anchor="middle" style="letter-spacing:2.16px">10</text>
<text class="t" x="1774.45" y="2114.8" font-size="47" text-anchor="middle" textLength="181.8" lengthAdjust="spacingAndGlyphs">Predicted</text>
<text class="t" transform="translate(1304.8 1620.3) rotate(-90)" font-size="47" text-anchor="middle" textLength="88.9" lengthAdjust="spacingAndGlyphs">True</text>
<rect x="2222.9" y="1234.1" width="38.1" height="771.4" fill="url(#vir)" stroke="#000" stroke-width="2.3"/>
<path d="M2261 2005.5H2271.5M2261 1851.22H2271.5M2261 1696.94H2271.5M2261 1542.66H2271.5M2261 1388.38H2271.5M2261 1234.1H2271.5" stroke="#000" stroke-width="2.2" fill="none"/>
<text class="t" transform="translate(2280.15 2022.35) scale(0.880 1)" font-size="46.6" text-anchor="start">0</text>
<text class="t" transform="translate(2280.15 1868.07) scale(0.880 1)" font-size="46.6" text-anchor="start" style="letter-spacing:2.16px">0.2</text>
<text class="t" transform="translate(2280.15 1713.79) scale(0.880 1)" font-size="46.6" text-anchor="start" style="letter-spacing:2.16px">0.4</text>
<text class="t" transform="translate(2280.15 1559.51) scale(0.880 1)" font-size="46.6" text-anchor="start" style="letter-spacing:2.16px">0.6</text>
<text class="t" transform="translate(2280.15 1405.23) scale(0.880 1)" font-size="46.6" text-anchor="start" style="letter-spacing:2.16px">0.8</text>
<text class="t" transform="translate(2278.15 1250.95) scale(0.880 1)" font-size="46.6" text-anchor="start">1</text>
</g>
<g id="caption-a">
<text class="cap" transform="translate(417.9 1073.1) scale(0.9035 1)" font-size="79">(<tspan font-weight="bold">a</tspan>) </text>
<text class="cap" transform="translate(524.9 1073.1) scale(0.9660 1)" font-size="79" font-style="italic">RF</text>
<text class="cap" transform="translate(614 1087.8) scale(1.0230 1)" font-size="59" font-style="italic">POE</text>
</g>
<g id="caption-b">
<text class="cap" transform="translate(1702.1 1073.1) scale(0.9440 1)" font-size="79">(<tspan font-weight="bold">b</tspan>) </text>
<text class="cap" transform="translate(1813.9 1073.1) scale(0.9565 1)" font-size="79">RF</text>
</g>
<g id="caption-c">
<text class="cap" transform="translate(446.4 2252.7) scale(0.8975 1)" font-size="79">(<tspan font-weight="bold">c</tspan>) </text>
<text class="cap" transform="translate(543 2252.7) scale(0.9750 1)" font-size="79">SVM</text>
</g>
<g id="caption-d">
<text class="cap" transform="translate(1666.95 2252.7) scale(0.9490 1)" font-size="79">(<tspan font-weight="bold">d</tspan>) </text>
<text class="cap" transform="translate(1779 2252.7) scale(1.0000 1)" font-size="79">MLP</text>
</g>
</svg>
</body></html>
